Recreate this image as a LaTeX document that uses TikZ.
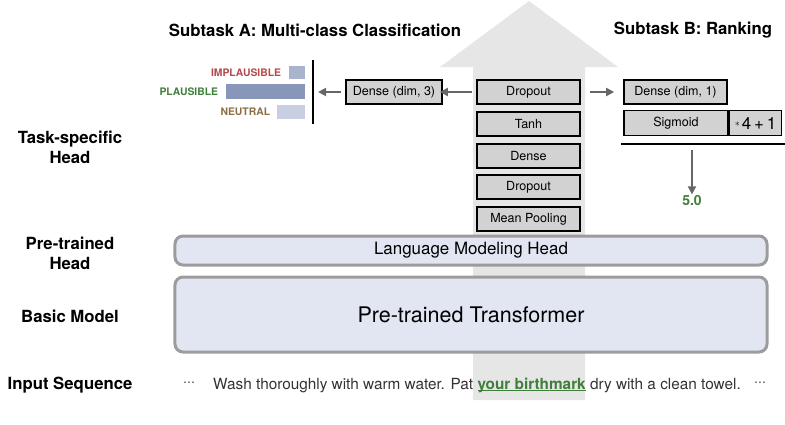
\documentclass[tikz,border=0pt]{standalone}
\usepackage{fontspec}
\setmainfont{TeX Gyre Heros}
\newfontfamily\dvfont{DejaVu Sans}
\usetikzlibrary{arrows.meta,positioning}
\definecolor{bigarrow}{HTML}{E6E6E6}
\definecolor{boxfill}{HTML}{D2D2D2}
\definecolor{arrgray}{HTML}{666666}
\definecolor{rbfill}{HTML}{E1E6F2}
\definecolor{rbdraw}{HTML}{9C9C9C}
\definecolor{cimpl}{HTML}{B5494B}
\definecolor{cplau}{HTML}{3F7F3A}
\definecolor{cneut}{HTML}{8C6E42}
\definecolor{bimpl}{HTML}{A9B3CD}
\definecolor{bplau}{HTML}{8896BA}
\definecolor{bneut}{HTML}{C8CFE2}
\definecolor{txtgray}{HTML}{333333}
\newsavebox{\ulbox}
\newcommand{\myul}[1]{\sbox{\ulbox}{#1}\rlap{\rule[-2.2bp]{\wd\ulbox}{1.1bp}}\usebox{\ulbox}}
\tikzset{
  tbox/.style={draw=black, line width=1.6bp, fill=boxfill, minimum height=24bp, inner sep=0pt, font=\fontsize{12.6}{14}\selectfont},
  rbox/.style={draw=rbdraw, line width=3bp, fill=rbfill, rounded corners=8bp, inner sep=0pt},
  garrow/.style={draw=arrgray, line width=1.8bp, -{Triangle[length=8bp,width=8bp]}},
  sidelabel/.style={font=\fontsize{16.8}{20}\selectfont\bfseries, align=center},
  title/.style={font=\fontsize{16.8}{20}\selectfont\bfseries},
  barlabel/.style={font=\fontsize{10.4}{12}\selectfont\bfseries, anchor=east},
  bar/.style={inner sep=0pt, anchor=east},
}
\begin{document}
\begin{tikzpicture}[x=1bp,y=-1bp]
\useasboundingbox (0,0) rectangle (785,424);
% big background arrow
\fill[bigarrow] (473,400) -- (473,67) -- (440,67) -- (529,1) -- (618,67) -- (585,67) -- (585,400) -- cycle;

% titles
\node[title] (tA) at (315,30) {Subtask A: Multi-class Classification};
\node[title] (tB) at (693,30) {Subtask B: Ranking};

% side labels
\node[sidelabel] (lTask) at (70,147) {Task-specific\\Head};
\node[sidelabel] (lPre) at (70,253) {Pre-trained\\Head};
\node[sidelabel] (lBasic) at (70,316) {Basic Model};
\node[sidelabel] (lIn) at (70,385) {Input Sequence};

% center stack
\node[tbox, minimum width=103bp] (drop1) at (528.5,92) {Dropout};
\node[tbox, minimum width=103bp] (tanh) at (528.5,124) {Tanh};
\node[tbox, minimum width=103bp] (dense) at (528.5,156) {Dense};
\node[tbox, minimum width=103bp] (drop2) at (528.5,187) {Dropout};
\node[tbox, minimum width=103bp] (pool) at (528.5,219) {Mean Pooling};

% subtask A
\node[tbox, minimum width=96bp] (denseA) at (394,92) {Dense (dim, 3)};
\draw[black, line width=1.6bp] (313,60) coordinate (vtop) -- (313,124) coordinate (vbot);
\coordinate (vmid) at (313,92);
\node[bar, fill=bimpl, minimum width=16bp, minimum height=13bp] (bI) at (305,72.5) {};
\node[bar, fill=bplau, minimum width=79bp, minimum height=15bp] (bP) at (305,91.5) {};
\node[bar, fill=bneut, minimum width=28bp, minimum height=14bp] (bN) at (305,112) {};
\node[barlabel, text=cimpl] (tI) at ([xshift=-4bp]bI.west) {IMPLAUSIBLE};
\node[barlabel, text=cplau] (tP) at ([xshift=-4bp]bP.west) {PLAUSIBLE};
\node[barlabel, text=cneut] (tN) at ([xshift=-3bp]bN.west) {NEUTRAL};
\draw[garrow] ([xshift=-4bp]drop1.west) -- ([xshift=-3bp]denseA.east);
\draw[garrow] ([xshift=-4bp]denseA.west) -- ([xshift=5bp]vmid);

% subtask B
\node[tbox, minimum width=103bp] (denseB) at (675.5,92) {Dense (dim, 1)};
\node[tbox, minimum width=104bp, minimum height=25bp] (sig) at (676,123) {Sigmoid};
\node[tbox, minimum width=52bp, minimum height=25bp, anchor=west] (scale) at (sig.east) {\raisebox{2.5bp}{\fontsize{10}{10}\selectfont$*$}\,\fontsize{17}{18}\selectfont 4\,+\,1};
\draw[black, line width=1.6bp] (621,144) coordinate (hl) -- (785,144) coordinate (hr);
\node[font=\fontsize{14}{16}\selectfont\bfseries, text=cplau] (res) at (692,201) {5.0};
\draw[garrow] ([xshift=9bp]drop1.east) -- ([xshift=-9bp]denseB.west);
\draw[garrow] (692,150) -- ([yshift=-2bp]res.north);

% pre-trained blocks
\node[rbox, minimum width=592bp, minimum height=29bp, font=\fontsize{17}{19}\selectfont] (lmh) at (471,250.5) {Language Modeling Head};
\node[rbox, minimum width=592bp, minimum height=75bp, font=\fontsize{21.6}{24}\selectfont] (pt) at (471,314.5) {Pre-trained Transformer};

% input sequence
\node[text=txtgray, font=\dvfont\fontsize{12}{14}\selectfont] (dl) at (189,384) {⋯};
\node[text=txtgray, font=\fontsize{15.4}{18}\selectfont, anchor=west, inner sep=0pt] (sent) at (213,385) {Wash thoroughly with warm water. Pat \textcolor{cplau}{\myul{\textbf{your birthmark}}} dry with a clean towel.};
\node[text=txtgray, font=\dvfont\fontsize{12}{14}\selectfont] (dr) at (760,384) {⋯};
\end{tikzpicture}
\end{document}
